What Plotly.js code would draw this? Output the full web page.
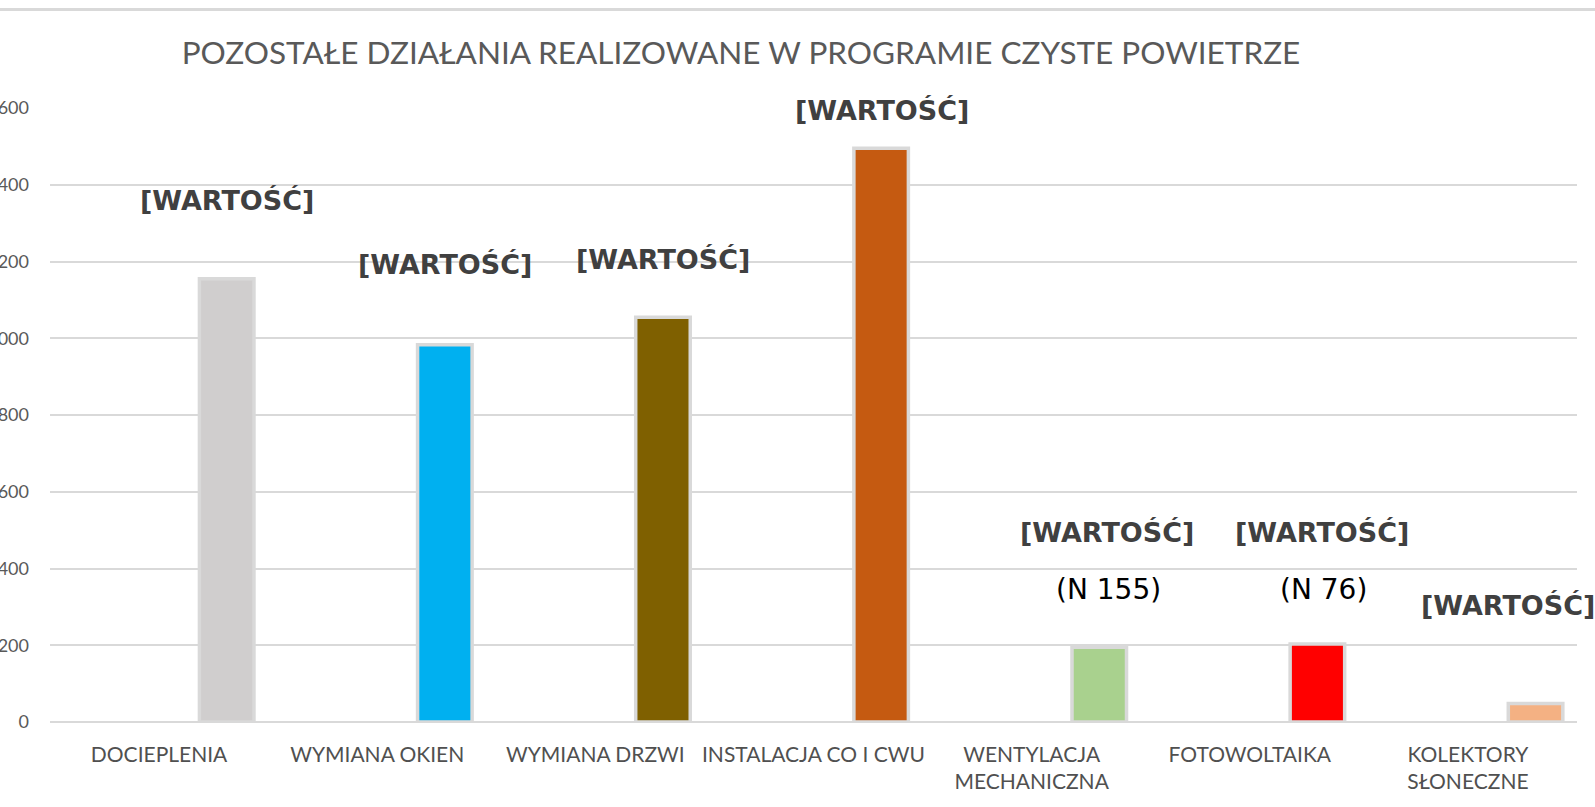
<!DOCTYPE html>
<html>
<head>
<meta charset="utf-8">
<script src="https://cdn.plot.ly/plotly-3.0.1.min.js"></script>
<style>
  html, body { margin: 0; padding: 0; background: #ffffff; }
  #chart { width: 1595px; height: 807px; }
</style>
</head>
<body>
<div id="chart"></div>
<script>
// ---- data ----
const categories = ["DOCIEPLENIA", "WYMIANA OKIEN", "WYMIANA DRZWI", "INSTALACJA CO I CWU",
                    "WENTYLACJA MECHANICZNA", "FOTOWOLTAIKA", "KOLEKTORY SŁONECZNE"];
const tickLabels = ["DOCIEPLENIA", "WYMIANA OKIEN", "WYMIANA DRZWI", "INSTALACJA CO I CWU",
                    "WENTYLACJA<br>MECHANICZNA", "FOTOWOLTAIKA", "KOLEKTORY<br>SŁONECZNE"];
const values = [1155, 983, 1055, 1495, 195, 203, 48];
const barColors = ["#D0CECE", "#00B0F0", "#7F6000", "#C55A11", "#A9D18E", "#FF0000", "#F4B183"];
const valueLabels = ["[WARTOŚĆ]", "[WARTOŚĆ]", "[WARTOŚĆ]", "[WARTOŚĆ]", "[WARTOŚĆ]", "[WARTOŚĆ]", "[WARTOŚĆ]"];
const countLabels = ["", "", "", "", "(N 155)", "(N 76)", ""];
const yTicks = [0, 200, 400, 600, 800, 1000, 1200, 1400, 1600];
const chartTitle = "POZOSTAŁE DZIAŁANIA REALIZOWANE W PROGRAMIE CZYSTE POWIETRZE";

// ---- label placement (layout only) ----
const valueLabelPos = [
  {y: 1360, dx: 68}, {y: 1191, dx: 68}, {y: 1204, dx: 68}, {y: 1593, dx: 68},
  {y: 493, dx: 75}, {y: 493, dx: 72}, {y: 303, dx: 40}
];
const countLabelPos = [null, null, null, null, {y: 344, dx: 77}, {y: 344, dx: 74}, null];

const annotations = [];
categories.forEach((c, i) => {
  annotations.push({
    x: c, xref: "x", y: valueLabelPos[i].y, yref: "y",
    xshift: valueLabelPos[i].dx, text: "<b>" + valueLabels[i] + "</b>",
    showarrow: false, xanchor: "center", yanchor: "middle",
    font: {family: "DejaVu Sans", size: 27, color: "#404040"}
  });
  if (countLabels[i]) {
    annotations.push({
      x: c, xref: "x", y: countLabelPos[i].y, yref: "y",
      xshift: countLabelPos[i].dx, text: countLabels[i],
      showarrow: false, xanchor: "center", yanchor: "middle",
      font: {family: "DejaVu Sans", size: 28, color: "#000000"}
    });
  }
});

const trace = {
  type: "bar",
  x: categories,
  y: values,
  width: 0.25,
  offset: 0.185,
  marker: {color: barColors, line: {color: "#D9D9D9", width: 3.5}},
  hoverinfo: "skip"
};

const layout = {
  width: 1595, height: 807,
  margin: {l: 50, r: 18, t: 108, b: 85, autoexpand: false},
  paper_bgcolor: "#ffffff", plot_bgcolor: "#ffffff",
  showlegend: false,
  title: {
    text: chartTitle,
    x: 0.4525, xref: "paper", xanchor: "center",
    y: 0.934, yref: "container", yanchor: "middle",
    font: {family: "Lato", size: 31.5, color: "#595959"}
  },
  xaxis: {
    type: "category",
    categoryarray: categories,
    range: [-0.5, 6.5],
    tickvals: categories,
    ticktext: tickLabels,
    showgrid: false, zeroline: false,
    showline: false,
    ticks: "",
    ticklabelstandoff: 18,
    automargin: false,
    tickfont: {family: "Lato", size: 21, color: "#505050"}
  },
  yaxis: {
    range: [0, 1600],
    tickvals: yTicks,
    showgrid: true, gridcolor: "#D9D9D9", gridwidth: 2,
    zeroline: true, zerolinecolor: "#D9D9D9", zerolinewidth: 2,
    showline: false,
    ticks: "",
    ticklabelstandoff: 20,
    automargin: false,
    tickfont: {family: "Lato", size: 18, color: "#595959"}
  },
  shapes: [{
    type: "line", xref: "paper", yref: "paper",
    x0: -0.04, x1: 1.02, y0: 1.1604, y1: 1.1604,
    line: {color: "#D9D9D9", width: 3}
  }],
  annotations: annotations,
  bargap: 0
};

Plotly.newPlot("chart", [trace], layout, {displayModeBar: false, staticPlot: true});
</script>
</body>
</html>
